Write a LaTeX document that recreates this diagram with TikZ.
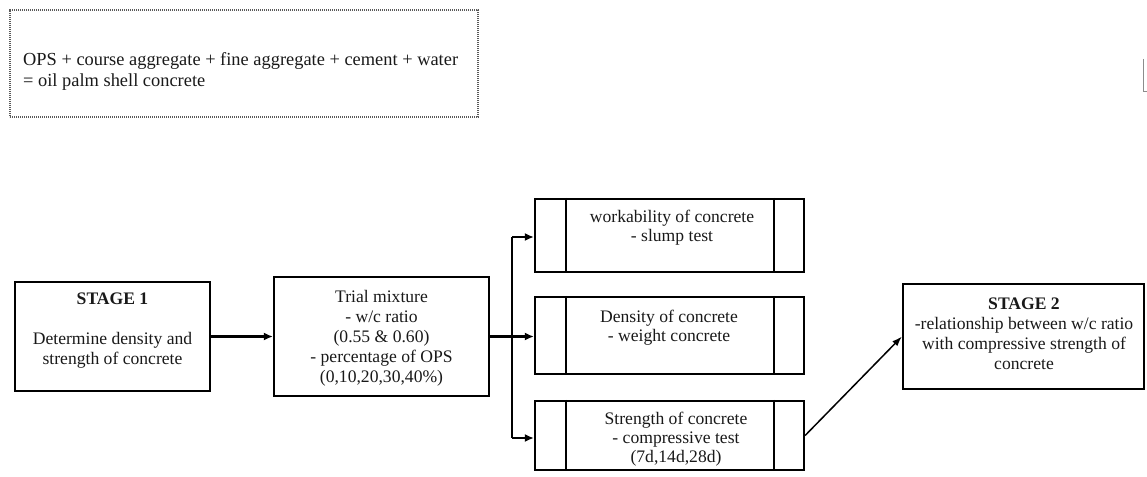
\documentclass[tikz,border=0pt]{standalone}
\usepackage{fontspec}
\setmainfont{Liberation Serif}
\usetikzlibrary{arrows.meta}
\begin{document}
\begin{tikzpicture}[x=1pt,y=-1pt,
  every node/.style={font=\fontsize{17.6}{20}\selectfont, inner sep=0pt},
  box/.style={draw=black, line width=2.2pt, rectangle},
  txt/.style={align=center, text=black!90},
  conn/.style={line width=2.2pt},
  arr/.style={line width=2.2pt, -{Latex[length=9pt,width=8pt]}},
  thinarr/.style={line width=1.5pt, -{Latex[length=10pt,width=7pt]}}]
\useasboundingbox (0,0) rectangle (1147,476);

% top dotted box
\node[draw=black!65, line width=1.4pt, dash pattern=on 1.2pt off 0.8pt,
      minimum width=468pt, minimum height=107pt] (top) at (244,63.5) {};
\node[anchor=west, align=left, text=black!90, font=\fontsize{18.4}{21}\selectfont] (toptxt) at (23,71)
  {OPS + course aggregate + fine aggregate + cement + water\\= oil palm shell concrete};

% stage 1
\node[box, minimum width=195pt, minimum height=109pt] (s1) at (112.5,336.5) {};
\node[txt] (s1t) at (112.5,331) {\textbf{STAGE 1}\\[20pt]Determine density and\\strength of concrete};

% trial mixture
\node[box, minimum width=215pt, minimum height=119pt] (tr) at (381.5,336.5) {};
\node[txt] (trt) at (381.5,338) {Trial mixture\\- w/c ratio\\(0.55 \& 0.60)\\- percentage of OPS\\(0,10,20,30,40\%)};

% right column boxes
\node[box, minimum width=269pt, minimum height=73pt] (w) at (669.5,235.5) {};
\node[box, minimum width=269pt, minimum height=77pt] (d) at (669.5,335.5) {};
\node[box, minimum width=269pt, minimum height=69pt] (st) at (669.5,435.5) {};
\foreach \b in {w,d,st}{
  \draw[line width=2.2pt] ([xshift=32pt]\b.north west) -- ([xshift=32pt]\b.south west);
  \draw[line width=2.2pt] ([xshift=-31pt]\b.north east) -- ([xshift=-31pt]\b.south east);
}
\node[txt, font=\fontsize{17.6}{19}\selectfont] (wt) at (672,228) {workability of concrete\\- slump test\hspace{36pt}};
\node[txt, font=\fontsize{17.6}{19}\selectfont] (dt) at (669,328) {Density of concrete\\- weight concrete};
\node[txt, font=\fontsize{17.6}{19}\selectfont] (stt) at (676,439) {Strength of concrete\\- compressive test\\(7d,14d,28d)};

% stage 2
\node[box, minimum width=241pt, minimum height=105pt] (s2) at (1023.5,336.5) {};
\node[txt] (s2t) at (1024,333.5) {\textbf{STAGE 2}\\-relationship between w/c ratio\\with compressive strength of\\concrete};

% connectors
\coordinate (j) at (512,336.5);
\coordinate (jt) at (512,237);
\coordinate (jb) at (512,438);
\draw[arr] (s1.east) -- (tr.west);
\draw[conn] (tr.east) -- (j);
\draw[conn] (jt) -- (jb);
\draw[arr] (jt) -- (jt -| w.west);
\draw[arr] (j) -- (j -| d.west);
\draw[arr] (jb) -- (jb -| st.west);
\draw[thinarr] (st.east) -- (s2.west);

% stray fragment at right edge
\draw[black!45, line width=1pt] (1143,59) -- (1143,92) -- (1147,92);
\end{tikzpicture}
\end{document}
